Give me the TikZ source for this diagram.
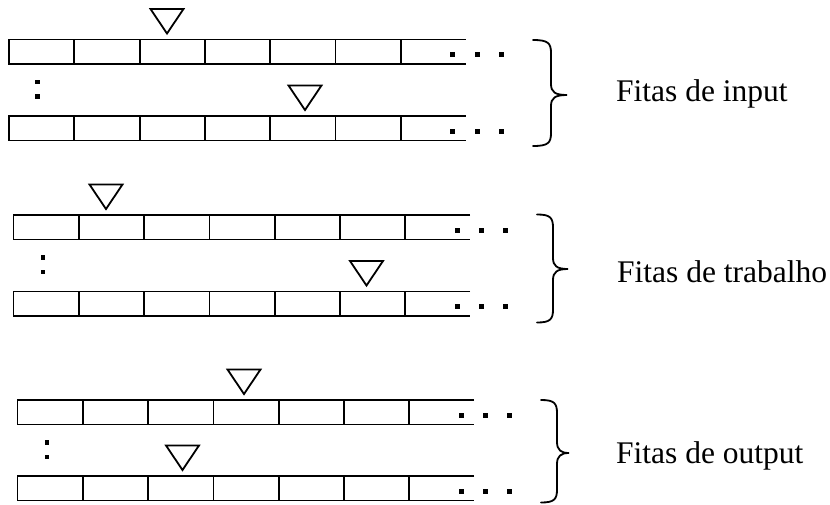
\documentclass[tikz,border=0pt]{standalone}
\usepackage{fontspec}
\setmainfont{Liberation Serif}
\tikzset{
  tapeline/.style={line width=1.8pt, line join=miter},
  headtri/.style={line width=1.8pt, line join=miter},
  bracestyle/.style={line width=1.8pt, line cap=round},
  label/.style={font=\fontsize{31.5}{38}\selectfont, anchor=base west, inner sep=0pt},
}
% #1 left x, #2 top y
\newcommand{\drawtapeband}[2]{%
  \draw[tapeline] (#1+456.5,#2) -- (#1,#2) -- (#1,#2+24.5) -- (#1+456.5,#2+24.5);
  \foreach \k in {1,...,6}{\draw[tapeline] (#1+\k*65.3,#2) -- (#1+\k*65.3,#2+24.5);}
  \foreach \d in {443.5,468,492}{\fill (#1+\d-2.5,#2+15-2.5) rectangle ++(5,5);}
}
% #1 apex x, #2 tape top y
\newcommand{\drawhead}[2]{%
  \draw[headtri] (#1-16.5,#2-30.5) -- (#1+16.5,#2-30.5) -- (#1,#2-6) -- cycle;
}
% #1 x, #2 tape bottom y
\newcommand{\drawcolon}[2]{%
  \fill (#1-2.3,#2+18-2.3) rectangle ++(4.6,4.6);
  \fill (#1-2.3,#2+32.5-2.3) rectangle ++(4.6,4.6);
}
% #1 left x, #2 spine x, #3 tip x, #4 top y, #5 tip y, #6 bottom y
\newcommand{\drawbrace}[6]{%
  \draw[bracestyle] (#1,#4) .. controls (#2-3,#4) and (#2,#4+3) .. (#2,#4+13)
    -- (#2,#5-11) .. controls (#2,#5-3) and (#2+4,#5) .. (#3,#5)
    .. controls (#2+4,#5) and (#2,#5+3) .. (#2,#5+11)
    -- (#2,#6-13) .. controls (#2,#6-3) and (#2-3,#6) .. (#1,#6);
}
\begin{document}
\begin{tikzpicture}[x=1pt,y=-1pt]
\useasboundingbox (0,0) rectangle (830,504);
% group 1: input
\drawtapeband{9}{39.5}
\drawtapeband{9}{116}
\drawhead{167}{39.5}
\drawhead{305}{116}
\drawcolon{37.5}{64}
\drawbrace{533}{551}{567}{40}{95}{146}
\node[label] (input) at (616,101) {Fitas de input};
% group 2: trabalho
\drawtapeband{13.5}{215}
\drawtapeband{13.5}{291.5}
\drawhead{106}{215}
\drawhead{366.5}{291.5}
\drawcolon{43}{239.5}
\drawbrace{537}{553}{568}{214.5}{269}{322.5}
\node[label] (trabalho) at (617,282) {Fitas de trabalho};
% group 3: output
\drawtapeband{17.5}{400}
\drawtapeband{17.5}{476}
\drawhead{244}{400}
\drawhead{182.5}{476}
\drawcolon{47}{424.5}
\drawbrace{541}{557}{569}{400}{453}{502.5}
\node[label] (output) at (616,463) {Fitas de output};
\end{tikzpicture}
\end{document}
